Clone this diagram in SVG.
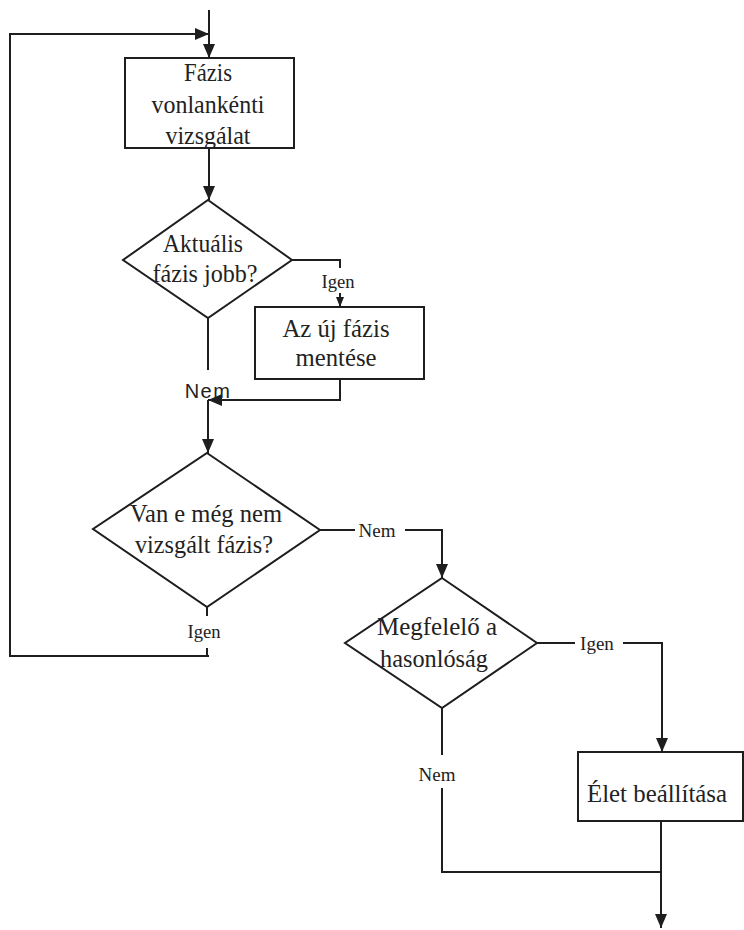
<svg xmlns="http://www.w3.org/2000/svg" width="744" height="930" viewBox="0 0 744 930">
<style>
.s{fill:none;stroke:#1e1e1e;stroke-width:2}
.n{fill:#fff;stroke:#1e1e1e;stroke-width:2}
.t{font-size:25px;fill:#222;text-anchor:middle}
.l{font-size:19px;fill:#222;text-anchor:middle}
.ls{font-size:20px;fill:#222;text-anchor:middle;letter-spacing:1.5px}
</style>
<defs>
<marker id="a" viewBox="0 0 14 12" refX="14" refY="6" markerWidth="14" markerHeight="12" markerUnits="userSpaceOnUse" orient="auto">
<path d="M0,0 L14,6 L0,12 Z" fill="#1e1e1e"/>
</marker>
<marker id="as" viewBox="0 0 10 8" refX="10" refY="4" markerWidth="10" markerHeight="8" markerUnits="userSpaceOnUse" orient="auto">
<path d="M0,0 L10,4 L0,8 Z" fill="#1e1e1e"/>
</marker>
</defs>
<g id="connectors" font-family="'Liberation Serif', 'Times New Roman', serif">
<path class="s" d="M209,10 V58" marker-end="url(#a)"/>
<path class="s" d="M209,656 H10 V34 H209" marker-end="url(#a)"/>
<path class="s" d="M209,148 V200" marker-end="url(#a)"/>
<path class="s" d="M292,260 H340 V268"/>
<path class="s" d="M340,293 V307" marker-end="url(#as)"/>
<path class="s" d="M208,318 V370"/>
<path class="s" d="M340,379 V400 H208" marker-end="url(#a)"/>
<path class="s" d="M208,400 V453" marker-end="url(#a)"/>
<path class="s" d="M320,530 H355"/>
<path class="s" d="M405,530 H442 V578" marker-end="url(#a)"/>
<path class="s" d="M207,607 V616"/>
<path class="s" d="M207,648 V656"/>
<path class="s" d="M537,643 H575"/>
<path class="s" d="M623,643 H662 V752" marker-end="url(#a)"/>
<path class="s" d="M442,708 V755"/>
<path class="s" d="M442,788 V872 H661"/>
<path class="s" d="M661,821 V928" marker-end="url(#a)"/>
<text class="l" x="338" y="288" textLength="33" lengthAdjust="spacingAndGlyphs">Igen</text>
<text class="ls" x="208" y="398" font-family="'Liberation Sans', Arial, sans-serif">Nem</text>
<text class="l" x="377" y="537" font-size="20">Nem</text>
<text class="l" x="204" y="638" textLength="33" lengthAdjust="spacingAndGlyphs">Igen</text>
<text class="l" x="597" y="650" font-size="20">Igen</text>
<text class="l" x="437" y="781" font-size="20">Nem</text>
</g>
<g id="box1" font-family="'Liberation Serif', 'Times New Roman', serif">
<rect class="n" x="125" y="58" width="169" height="90"/>
<text class="t" x="208" y="81" textLength="48" lengthAdjust="spacingAndGlyphs">Fázis</text>
<text class="t" x="208" y="113" textLength="113" lengthAdjust="spacingAndGlyphs">vonlankénti</text>
<text class="t" x="208" y="144" textLength="85" lengthAdjust="spacingAndGlyphs">vizsgálat</text>
</g>
<g id="dec1" font-family="'Liberation Serif', 'Times New Roman', serif">
<polygon class="n" points="208,200 292,260 208,318 123,260"/>
<text class="t" x="203" y="252" textLength="80" lengthAdjust="spacingAndGlyphs">Aktuális</text>
<text class="t" x="205" y="282" textLength="105" lengthAdjust="spacingAndGlyphs">fázis jobb?</text>
</g>
<g id="box2" font-family="'Liberation Serif', 'Times New Roman', serif">
<rect class="n" x="255" y="307" width="169" height="72"/>
<text class="t" x="336" y="337" textLength="107" lengthAdjust="spacingAndGlyphs">Az új fázis</text>
<text class="t" x="336" y="366" textLength="81" lengthAdjust="spacingAndGlyphs">mentése</text>
</g>
<g id="dec2" font-family="'Liberation Serif', 'Times New Roman', serif">
<polygon class="n" points="207,453 320,530 207,607 93,529"/>
<text class="t" x="206" y="522" textLength="152" lengthAdjust="spacingAndGlyphs">Van e még nem</text>
<text class="t" x="204" y="553" textLength="138" lengthAdjust="spacingAndGlyphs">vizsgált fázis?</text>
</g>
<g id="dec3" font-family="'Liberation Serif', 'Times New Roman', serif">
<polygon class="n" points="442,578 537,643 442,708 345,643"/>
<text class="t" x="437" y="635" textLength="120" lengthAdjust="spacingAndGlyphs">Megfelelő a</text>
<text class="t" x="434" y="667" textLength="108" lengthAdjust="spacingAndGlyphs">hasonlóság</text>
</g>
<g id="box3" font-family="'Liberation Serif', 'Times New Roman', serif">
<rect class="n" x="578" y="752" width="165" height="69"/>
<text class="t" x="657" y="802" textLength="140" lengthAdjust="spacingAndGlyphs">Élet beállítása</text>
</g>
</svg>
